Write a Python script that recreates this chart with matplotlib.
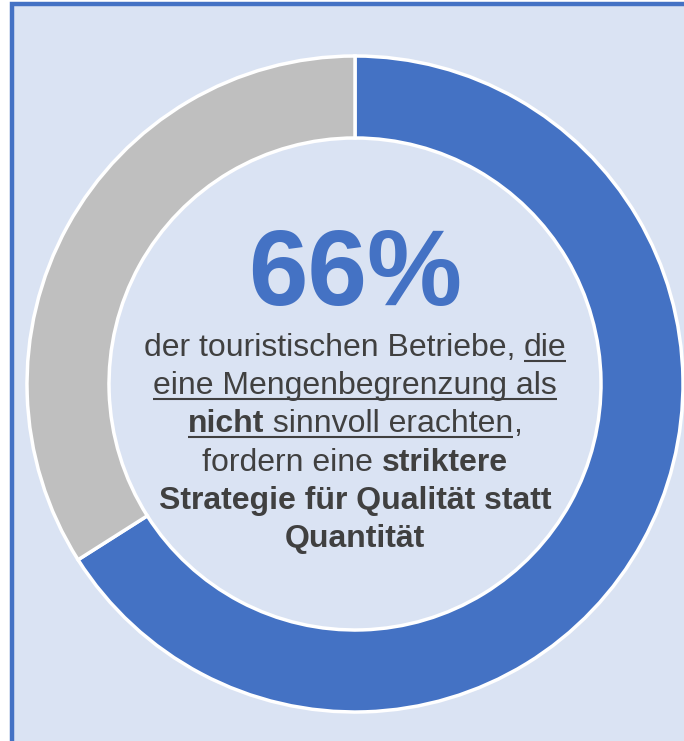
import matplotlib.pyplot as plt
from matplotlib.patches import Rectangle

# share of businesses (rejecting a cap) asking for quality over quantity
shares = [66, 34]
share_names = ['fordern striktere Strategie', 'übrige']
colors = ['#4472C4', '#BFBFBF']
headline = f'{shares[0]}%'

# body text, one list per line: (text, bold, underline)
text_lines = [
    [('der touristischen Betriebe, ', False, False), ('die', False, True)],
    [('eine Mengenbegrenzung als', False, True)],
    [('nicht', True, True), (' sinnvoll erachten', False, True), (',', False, False)],
    [('fordern eine ', False, False), ('striktere', True, False)],
    [('Strategie für Qualität statt', True, False)],
    [('Quantität', True, False)],
]

W, H = 684, 741
font = 'Liberation Sans'
txt_col = '#404040'
fs = 23

fig = plt.figure(figsize=(W / 100, H / 100), dpi=100)
fig.patch.set_facecolor('white')
ax = fig.add_axes([0, 0, 1, 1])

# panel with blue frame
ax.add_patch(Rectangle((11.5, -20), W + 40, H - 3.5 + 20, facecolor='#DAE3F3',
                       edgecolor='#4472C4', linewidth=3.2, zorder=0))

cx, cy, R = 355, H - 384, 328
ax.pie(shares, colors=colors, startangle=90, counterclock=False,
       center=(cx, cy), radius=R, frame=True,
       wedgeprops=dict(width=82, edgecolor='white', linewidth=2.5))
ax.set_xlim(0, W)
ax.set_ylim(0, H)
ax.set_aspect('auto')
ax.axis('off')

ax.text(cx, H - 305, headline, ha='center', va='baseline', fontsize=77,
        fontweight='bold', color='#4472C4', family=font)

fig.canvas.draw()
rend = fig.canvas.get_renderer()


def seg_width(s, bold):
    t = ax.text(0, 0, '|' + s + '|', fontsize=fs, family=font,
                fontweight='bold' if bold else 'normal')
    w = t.get_window_extent(rend).width
    t.set_text('||')
    w0 = t.get_window_extent(rend).width
    t.remove()
    return w - w0


base0, step = H - 356, 38.2
for i, line in enumerate(text_lines):
    y = base0 - i * step
    widths = [seg_width(s, b) for s, b, u in line]
    x = cx - sum(widths) / 2
    for (s, b, u), w in zip(line, widths):
        ax.text(x, y, s, ha='left', va='baseline', fontsize=fs, family=font,
                fontweight='bold' if b else 'normal', color=txt_col)
        if u:
            ax.plot([x, x + w], [y - 4.5, y - 4.5], color=txt_col, lw=1.5,
                    solid_capstyle='butt')
        x += w

fig.savefig('out.png', dpi=100, facecolor=fig.get_facecolor())
